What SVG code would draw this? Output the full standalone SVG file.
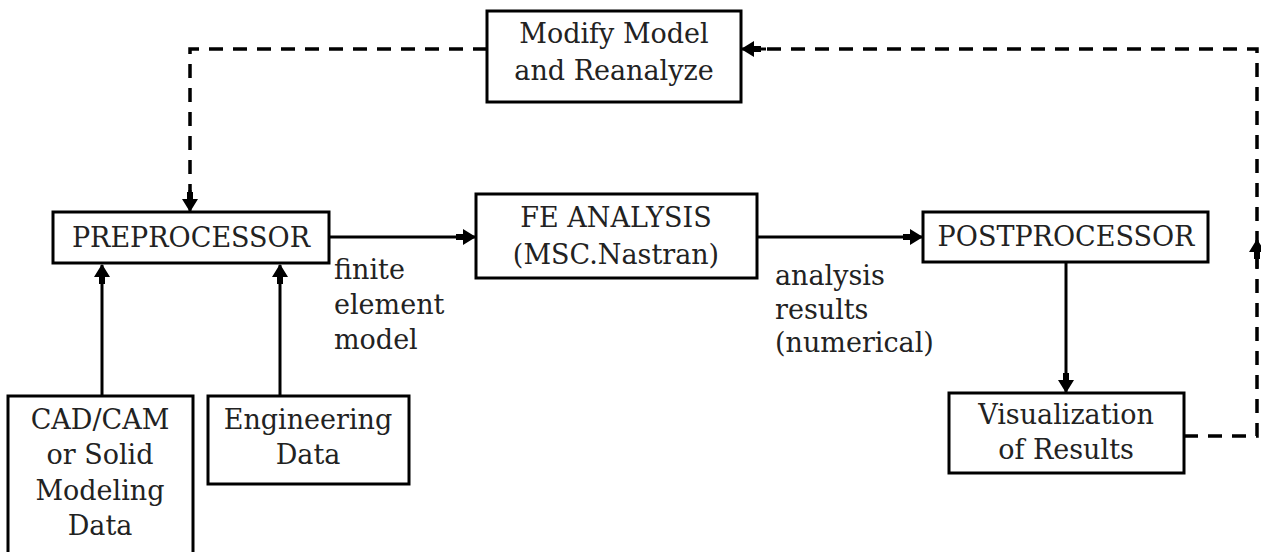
<svg xmlns="http://www.w3.org/2000/svg" width="1261" height="552" viewBox="0 0 1261 552">
<defs>
<marker id="ah" viewBox="0 0 20 16" refX="19" refY="8" markerWidth="20" markerHeight="16" markerUnits="userSpaceOnUse" orient="auto">
<path d="M0,5 L7,5 L7,0 L20,8 L7,16 L7,11 L0,11 Z" fill="#000"/>
</marker>
<style>
.box{fill:#fff;stroke:#000;stroke-width:3}
.t{font-family:"DejaVu Serif","Liberation Serif",serif;font-size:27px;fill:#222;text-anchor:middle}
.l{font-family:"DejaVu Serif","Liberation Serif",serif;font-size:27px;fill:#222}
.c{fill:none;stroke:#000;stroke-width:3}
.d{fill:none;stroke:#000;stroke-width:3.5;stroke-dasharray:14 10}
</style>
</defs>
<rect width="1261" height="552" fill="#fff"/>
<g id="connectors">
<path class="d" d="M487,49 H190 V192"/>
<line class="c" x1="190" y1="190" x2="190" y2="211" marker-end="url(#ah)"/>
<path class="d" d="M1184,436 H1257 V49 H764"/>
<line class="c" x1="766" y1="49" x2="742" y2="49" marker-end="url(#ah)"/>
<line class="c" x1="1257" y1="268" x2="1257" y2="240" marker-end="url(#ah)"/>
<line class="c" x1="329" y1="237" x2="475" y2="237" marker-end="url(#ah)"/>
<line class="c" x1="757" y1="237" x2="922" y2="237" marker-end="url(#ah)"/>
<line class="c" x1="1066" y1="262" x2="1066" y2="392" marker-end="url(#ah)"/>
<line class="c" x1="102" y1="396" x2="102" y2="265" marker-end="url(#ah)"/>
<line class="c" x1="280" y1="396" x2="280" y2="265" marker-end="url(#ah)"/>
<text class="l" x="334" y="279">finite</text>
<text class="l" x="334" y="314">element</text>
<text class="l" x="334" y="349">model</text>
<text class="l" x="775" y="285">analysis</text>
<text class="l" x="775" y="319">results</text>
<text class="l" x="775" y="352">(numerical)</text>
</g>
<g id="modify">
<rect class="box" x="487" y="11" width="254" height="91"/>
<text class="t" x="614" y="43">Modify Model</text>
<text class="t" x="614" y="80">and Reanalyze</text>
</g>
<g id="preprocessor">
<rect class="box" x="53" y="212" width="276" height="51"/>
<text class="t" x="191" y="247">PREPROCESSOR</text>
</g>
<g id="fe">
<rect class="box" x="476" y="194" width="281" height="84"/>
<text class="t" x="616" y="227">FE ANALYSIS</text>
<text class="t" x="616" y="264">(MSC.Nastran)</text>
</g>
<g id="postprocessor">
<rect class="box" x="923" y="212" width="285" height="50"/>
<text class="t" x="1066" y="246">POSTPROCESSOR</text>
</g>
<g id="visualization">
<rect class="box" x="949" y="393" width="235" height="80"/>
<text class="t" x="1066" y="424">Visualization</text>
<text class="t" x="1066" y="459">of Results</text>
</g>
<g id="cad">
<rect class="box" x="8" y="396" width="185" height="170"/>
<text class="t" x="100" y="429">CAD/CAM</text>
<text class="t" x="100" y="464">or Solid</text>
<text class="t" x="100" y="500">Modeling</text>
<text class="t" x="100" y="535">Data</text>
</g>
<g id="engineering">
<rect class="box" x="208" y="396" width="201" height="88"/>
<text class="t" x="308" y="429">Engineering</text>
<text class="t" x="308" y="464">Data</text>
</g>
</svg>
